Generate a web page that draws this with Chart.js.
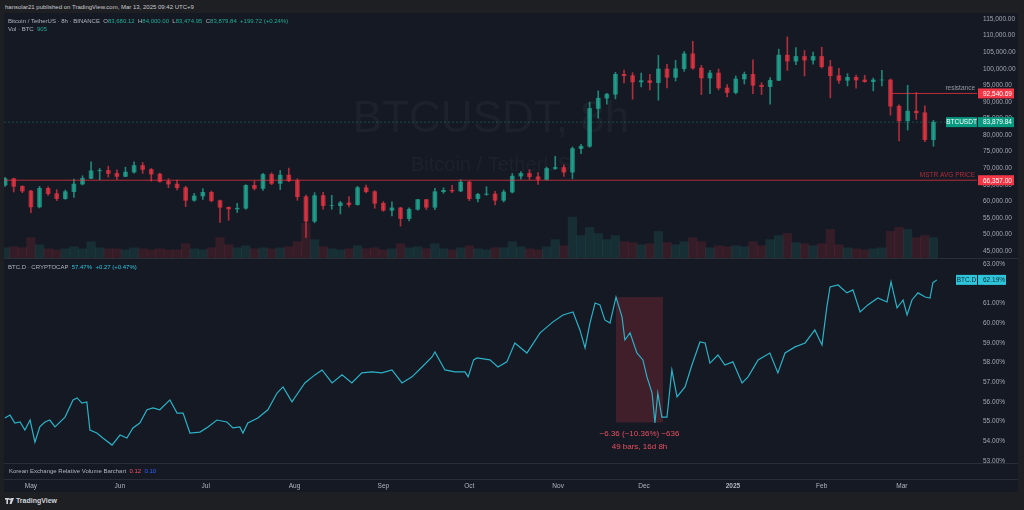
<!DOCTYPE html>
<html>
<head>
<meta charset="utf-8">
<script src="https://cdn.jsdelivr.net/npm/chart.js@4.4.1/dist/chart.umd.min.js"></script>
<style>
  html, body { margin: 0; padding: 0; width: 1024px; height: 510px; overflow: hidden; background: #1e1f23; font-family: "Liberation Sans", Arial, sans-serif; }
  #frame { position: absolute; left: 4px; top: 13px; width: 1014px; height: 479px; background: #151924; }
  canvas { position: absolute; left: 4px; }
  .t { position: absolute; white-space: nowrap; font-size: 6px; line-height: 8px; color: #b2b5be; }
  .sep { position: absolute; left: 4px; width: 1014px; height: 1px; background: #2a2e39; }
  .g { color: #22ab94; }
  .c { color: #2ec5db; }
</style>
</head>
<body>
<div id="frame"></div>
<canvas id="price" width="1014" height="245" style="top:13px"></canvas>
<canvas id="dom" width="1014" height="205" style="top:258px"></canvas>
<canvas id="axis" width="1014" height="29" style="top:463px"></canvas>
<div class="sep" style="top:258px"></div>
<div class="sep" style="top:463px"></div>
<div class="sep" style="top:479px"></div>

<div class="t" style="left:5px;top:3px;color:#c9cacf">hansolar21 published on TradingView.com, Mar 13, 2025 09:42 UTC+9</div>
<div class="t" style="left:8px;top:17px">Bitcoin / TetherUS · 8h · BINANCE &nbsp;O<span class="g">83,680.12</span> &nbsp;H<span class="g">84,000.00</span> &nbsp;L<span class="g">83,474.95</span> &nbsp;C<span class="g">83,879.84</span> &nbsp;<span class="g">+199.72 (+0.24%)</span></div>
<div class="t" style="left:8px;top:25px">Vol · BTC &nbsp;<span class="g">905</span></div>
<div class="t" style="left:8px;top:263px">BTC.D · CRYPTOCAP &nbsp;<span class="c">57.47%</span> &nbsp;<span class="c">+0.27 (+0.47%)</span></div>
<div class="t" style="left:9px;top:467px">Korean Exchange Relative Volume Barchart &nbsp;<span style="color:#f7525f">0.12</span> &nbsp;<span style="color:#2962ff">0.10</span></div>
<div class="t" style="left:5px;top:497px;color:#d1d4dc;font-size:7px;font-weight:bold">
  <svg width="9" height="6" viewBox="0 0 9 6" style="vertical-align:-1px"><rect x="0" y="0" width="4" height="1.6" fill="#d1d4dc"/><rect x="1.4" y="0" width="1.6" height="6" fill="#d1d4dc"/><circle cx="5" cy="1.2" r="1" fill="#d1d4dc"/><polygon points="6.2,0 9,0 6.5,6 4.6,6" fill="#d1d4dc"/></svg> TradingView</div>

<script>
// day offsets counted from 2024-05-01, one candle every 3 days
var candleDay = [
  -9, -6, -3, 0, 3, 6, 9, 12, 15, 18,
  21, 24, 27, 30, 33, 36, 39, 42, 45, 48,
  51, 54, 57, 60, 63, 66, 69, 72, 75, 78,
  81, 84, 87, 90, 93, 96, 99, 102, 105, 108,
  111, 114, 117, 120, 123, 126, 129, 132, 135, 138,
  141, 144, 147, 150, 153, 156, 159, 162, 165, 168,
  171, 174, 177, 180, 183, 186, 189, 192, 195, 198,
  201, 204, 207, 210, 213, 216, 219, 222, 225, 228,
  231, 234, 237, 240, 243, 246, 249, 252, 255, 258,
  261, 264, 267, 270, 273, 276, 279, 282, 285, 288,
  291, 294, 297, 300, 303, 306, 309, 312, 315
];
var firstOpen = 64900;
var closes = [
  66800, 64500, 63100, 58300, 63900, 62300, 60800, 62900, 65200, 66900,
  69200, 69300, 68400, 67500, 68800, 70800, 69600, 68200, 66000, 65200,
  64100, 60300, 61600, 62700, 60200, 58200, 57700, 57900, 64800, 63900,
  68100, 65400, 67900, 66200, 61400, 54000, 61700, 58700, 58700, 59500,
  59000, 64100, 62900, 59400, 57300, 58000, 54800, 57600, 60500, 58200,
  62900, 63300, 63100, 65800, 60800, 62100, 62200, 60300, 62800, 67600,
  68400, 67400, 66600, 69900, 70200, 68800, 75900, 76600, 88000, 91100,
  92300, 98300, 97900, 96000, 96400, 95800, 99900, 97400, 100000, 104500,
  100200, 97200, 98700, 94200, 92800, 96900, 98300, 95000, 94600, 96500,
  104100, 102300, 103700, 102600, 103700, 100600, 97900, 96500, 97400, 96600,
  96100, 96600, 96600, 88700, 84300, 87200, 86700, 78600, 83880
];
var highs = [
  67200, 67000, 64700, 63300, 64500, 64400, 63500, 63400, 66700, 67700,
  71900, 69900, 70600, 69500, 70300, 71900, 71700, 69900, 68500, 66800,
  66400, 64500, 62400, 63800, 63100, 60400, 58300, 59400, 65000, 66100,
  68400, 68600, 69300, 70000, 66800, 61900, 62600, 62700, 61800, 60000,
  61400, 64500, 64900, 63200, 59900, 59800, 58200, 58000, 60600, 60600,
  63900, 64100, 64800, 66500, 66100, 62400, 64400, 63000, 63400, 68400,
  69000, 69500, 68700, 70300, 73600, 71000, 76400, 77200, 89900, 93300,
  92600, 98900, 99600, 98800, 98700, 98300, 104000, 101300, 102500, 105200,
  108300, 101000, 99500, 99900, 95200, 97800, 99000, 102700, 95800, 97300,
  105900, 109600, 106400, 105500, 105000, 106500, 102500, 100100, 98500, 98100,
  98000, 97200, 99500, 96900, 89100, 95000, 92800, 88800, 84400
];
var lows = [
  64500, 62800, 62600, 56600, 58000, 61800, 60200, 60600, 61200, 64900,
  66800, 66500, 67300, 66600, 67400, 68500, 68400, 66100, 65800, 64100,
  63400, 58400, 60000, 60600, 59800, 53600, 54300, 56600, 57600, 63400,
  63300, 65000, 63500, 65900, 60300, 49100, 53500, 57600, 57600, 56200,
  58300, 58800, 62500, 57900, 57000, 55600, 52500, 54100, 57300, 57500,
  57500, 62400, 62600, 62900, 60200, 59800, 61800, 58900, 59800, 62500,
  66700, 66600, 65100, 66400, 69600, 67500, 66800, 74400, 76300, 85100,
  89300, 90900, 95700, 90800, 94500, 93600, 90500, 94200, 96300, 99200,
  99800, 92200, 92500, 93600, 91500, 92400, 95400, 92500, 92200, 89300,
  96400, 99500, 101200, 97800, 101400, 100200, 91200, 95600, 94800, 94100,
  95900, 93300, 94800, 86000, 78200, 81500, 84700, 78000, 76600
];
var volume = [
  10, 11, 10, 20, 13, 9, 8, 9, 11, 9,
  16, 10, 9, 9, 8, 10, 9, 8, 9, 8,
  8, 14, 9, 8, 10, 20, 13, 10, 12, 9,
  10, 9, 10, 11, 16, 34, 18, 11, 9, 8,
  9, 12, 9, 10, 8, 9, 14, 10, 11, 9,
  14, 9, 8, 10, 12, 9, 8, 10, 10, 16,
  11, 9, 8, 11, 18, 12, 40, 22, 30, 24,
  18, 22, 16, 15, 13, 14, 26, 15, 13, 16,
  20, 16, 10, 12, 11, 12, 11, 16, 12, 18,
  22, 24, 15, 14, 12, 14, 28, 13, 10, 9,
  8, 9, 10, 26, 30, 28, 20, 22, 20
];

// BTC dominance (%)
var btcdDay = [
  -9.1, -7.3, -5.6, -3.8, -2.1, -0.3, 1.4, 3.1, 4.9, 6.6, 8.4, 11.9, 14.7, 16.1, 17.8, 19.5,
  20.6, 23.0, 25.1, 28.3, 31.1, 33.5, 35.6, 38.0, 40.5, 42.6, 45.0, 48.5, 51.0, 53.1, 55.5,
  59.0, 61.8, 64.9, 68.4, 70.5, 72.9, 74.0, 75.7, 79.2, 82.7, 85.9, 88.0, 91.1, 93.2, 95.6,
  99.1, 101.6, 105.1, 108.6, 112.0, 115.5, 119.0, 122.5, 126.0, 129.5, 133.0, 136.5, 140.0,
  141.0, 144.5, 148.0, 151.5, 152.6, 154.5, 155.7, 160.2, 163.0, 166.1, 168.9, 173.1, 177.7,
  182.2, 185.7, 189.2, 191.6, 193.4, 195.1, 196.9, 198.6, 200.3, 202.1, 204.2, 206.3, 207.3,
  209.1, 211.5, 213.6, 215.0, 216.8, 217.8, 218.8, 220.2, 222.0, 223.7, 225.5, 228.3, 230.7,
  233.5, 235.3, 237.0, 239.8, 242.2, 245.0, 248.2, 250.3, 253.8, 257.9, 260.7, 263.2, 266.7,
  270.2, 273.6, 276.1, 277.8, 278.9, 281.7, 284.8, 286.9, 289.4, 292.1, 295.6, 298.8, 300.2,
  302.3, 304.4, 305.8, 307.5, 309.6, 312.1, 313.8, 314.8, 316.2
];
var btcdVal = [
  55.18, 55.33, 54.93, 54.98, 54.57, 55.08, 53.96, 54.73, 54.98, 55.08, 54.73, 55.23, 56.10, 56.20, 55.94, 56.00,
  54.57, 54.42, 54.17, 53.81, 54.32, 54.17, 54.68, 54.93, 55.60, 55.70, 55.60, 56.10, 55.43, 55.43, 54.42,
  54.47, 54.73, 55.08, 54.98, 54.68, 54.73, 54.42, 54.93, 55.18, 55.60, 56.45, 56.76, 56.00, 56.45, 56.96,
  57.37, 57.62, 56.96, 57.37, 56.96, 57.47, 57.52, 57.47, 57.62, 56.96, 57.27, 57.77, 58.28,
  58.53, 57.62, 57.52, 57.52, 57.27, 58.13, 58.23, 58.13, 57.77, 58.03, 58.99, 58.48, 59.50,
  60.06, 60.41, 60.56, 59.65, 58.74, 60.00, 61.02, 60.92, 60.16, 60.00, 61.32, 60.31, 59.14,
  59.50, 58.48, 58.13, 57.27, 56.45, 54.93, 56.45, 55.23, 55.23, 57.62, 56.25, 56.76, 57.87,
  59.04, 58.99, 57.97, 58.38, 57.87, 58.03, 56.96, 57.27, 58.13, 58.48, 57.47, 58.48, 58.79,
  58.99, 59.65, 58.89, 60.82, 61.83, 61.93, 61.53, 61.68, 60.56, 60.92, 61.27, 61.07, 62.09,
  60.77, 61.17, 60.41, 61.17, 61.53, 61.32, 61.27, 62.05, 62.19
];

var priceTicks = [45000, 50000, 55000, 60000, 65000, 70000, 75000, 80000, 85000, 90000, 95000, 100000, 105000, 110000, 115000];
var domTicks = [53, 54, 55, 56, 57, 58, 59, 60, 61, 62, 63];
var monthDays = [0, 31, 61, 92, 123, 153, 184, 214, 245, 276, 304];
var monthLabels = ['May', 'Jun', 'Jul', 'Aug', 'Sep', 'Oct', 'Nov', 'Dec', '2025', 'Feb', 'Mar'];

var lastPrice = 83879.84;
var resistanceLevel = 92540.69;
var resistanceStart = 300.5;
var mstrLevel = 66357.00;
var lastDom = 62.19;
// measured drop on BTC.D
var measureFrom = 204.2, measureTo = 220.6, measureHigh = 61.32, measureLow = 54.96;
var measureText = ['\u22126.36 (\u221210.36%) \u2212636', '49 bars, 16d 8h'];

var xMin = -9.4, xMax = 330.2;
var FONT = '"Liberation Sans", Arial, sans-serif';

function fmtPrice(v) {
  return v.toLocaleString('en-US', {minimumFractionDigits: 2, maximumFractionDigits: 2});
}

var opens = closes.map(function (c, i) { return i === 0 ? firstOpen : closes[i - 1]; });
var candleColor = closes.map(function (c, i) { return c >= opens[i] ? 'rgba(34,171,148,0.75)' : 'rgba(242,54,69,0.7)'; });
var volColor = closes.map(function (c, i) { return c >= opens[i] ? 'rgba(34,171,148,0.15)' : 'rgba(242,54,69,0.15)'; });

function yAxisFit(scale) {
  scale.width = 41;
  scale.paddingTop = 0;
  scale.paddingBottom = 0;
}

function tagBox(ctx, x1, x2, yc, bg, fg, text, align) {
  ctx.fillStyle = bg;
  ctx.fillRect(x1, yc - 5, x2 - x1, 10);
  ctx.fillStyle = fg;
  ctx.font = '6.5px ' + FONT;
  ctx.textBaseline = 'middle';
  if (align === 'left') {
    ctx.textAlign = 'left';
    ctx.fillText(text, x1 + 5, yc + 0.5);
  } else {
    ctx.textAlign = 'center';
    ctx.fillText(text, (x1 + x2) / 2, yc + 0.5);
  }
}

var watermark = {
  id: 'watermark',
  beforeDatasetsDraw: function (chart) {
    var ctx = chart.ctx;
    ctx.save();
    ctx.fillStyle = 'rgba(255,255,255,0.035)';
    ctx.textAlign = 'center';
    ctx.textBaseline = 'alphabetic';
    ctx.font = '44px ' + FONT;
    ctx.fillText('BTCUSDT, 8h', 487, 119);
    ctx.font = '20px ' + FONT;
    ctx.fillText('Bitcoin / TetherUS', 487, 158);
    ctx.restore();
  }
};

var priceTags = {
  id: 'priceTags',
  afterDraw: function (chart) {
    var ctx = chart.ctx, y = chart.scales.y, r = chart.chartArea.right;
    ctx.save();
    ctx.font = '6.5px ' + FONT;
    ctx.textAlign = 'right';
    ctx.textBaseline = 'alphabetic';
    ctx.fillStyle = '#9598a1';
    ctx.fillText('resistance', r - 2, y.getPixelForValue(resistanceLevel) - 3);
    ctx.fillStyle = 'rgba(242,54,69,0.7)';
    ctx.fillText('MSTR AVG PRICE', r - 2, y.getPixelForValue(mstrLevel) - 3);
    tagBox(ctx, r + 1, r + 37, y.getPixelForValue(resistanceLevel), '#f23645', '#ffffff', fmtPrice(resistanceLevel), 'left');
    tagBox(ctx, r + 1, r + 37, y.getPixelForValue(mstrLevel), '#f23645', '#ffffff', fmtPrice(mstrLevel), 'left');
    tagBox(ctx, r - 31, r, y.getPixelForValue(lastPrice), '#089981', '#ffffff', 'BTCUSDT');
    tagBox(ctx, r + 1, r + 37, y.getPixelForValue(lastPrice), '#089981', '#ffffff', fmtPrice(lastPrice), 'left');
    ctx.restore();
  }
};

new Chart(document.getElementById('price'), {
  type: 'bar',
  data: {
    datasets: [
      {
        label: 'Vol',
        data: candleDay.map(function (d, i) { return {x: d, y: volume[i]}; }),
        yAxisID: 'yv',
        backgroundColor: volColor,
        barPercentage: 1,
        categoryPercentage: 1,
        grouped: false,
        order: 6
      },
      {
        label: 'wick',
        data: candleDay.map(function (d, i) { return {x: d, y: [lows[i], highs[i]]}; }),
        backgroundColor: candleColor,
        barThickness: 1,
        grouped: false,
        order: 5
      },
      {
        label: 'body',
        data: candleDay.map(function (d, i) { return {x: d, y: [opens[i], closes[i]]}; }),
        backgroundColor: candleColor,
        barThickness: 4,
        grouped: false,
        order: 4
      },
      {
        type: 'line',
        label: 'MSTR AVG PRICE',
        data: [{x: xMin, y: mstrLevel}, {x: xMax, y: mstrLevel}],
        borderColor: 'rgba(242,54,69,0.7)',
        borderWidth: 1,
        pointRadius: 0,
        order: 3
      },
      {
        type: 'line',
        label: 'resistance',
        data: [{x: resistanceStart, y: resistanceLevel}, {x: xMax, y: resistanceLevel}],
        borderColor: 'rgba(242,54,69,0.75)',
        borderWidth: 1,
        pointRadius: 0,
        order: 2
      },
      {
        type: 'line',
        label: 'last',
        data: [{x: xMin, y: lastPrice}, {x: xMax, y: lastPrice}],
        borderColor: 'rgba(34,171,148,0.35)',
        borderWidth: 1,
        borderDash: [2, 2],
        pointRadius: 0,
        order: 1
      }
    ]
  },
  options: {
    responsive: false,
    animation: false,
    devicePixelRatio: 1,
    layout: {padding: 0},
    plugins: {legend: {display: false}, tooltip: {enabled: false}},
    scales: {
      x: {type: 'linear', min: xMin, max: xMax, offset: false, display: false},
      y: {
        type: 'linear', position: 'right', min: 42890, max: 116810,
        grid: {display: false, drawTicks: false}, border: {display: false},
        afterBuildTicks: function (s) { s.ticks = priceTicks.map(function (v) { return {value: v}; }); },
        afterFit: yAxisFit,
        ticks: {color: '#a3a6af', padding: 6, font: {size: 6.5, family: FONT}, callback: function (v) { return fmtPrice(v); }}
      },
      yv: {type: 'linear', display: false, min: 0, max: 240}
    }
  },
  plugins: [watermark, priceTags]
});

var measure = {
  id: 'measure',
  beforeDatasetsDraw: function (chart) {
    var ctx = chart.ctx, x = chart.scales.x, y = chart.scales.y;
    var x1 = x.getPixelForValue(measureFrom), x2 = x.getPixelForValue(measureTo);
    var y1 = y.getPixelForValue(measureHigh), y2 = y.getPixelForValue(measureLow);
    ctx.save();
    ctx.fillStyle = 'rgba(242,54,69,0.2)';
    ctx.fillRect(x1, y1, x2 - x1, y2 - y1);
    ctx.restore();
  },
  afterDraw: function (chart) {
    var ctx = chart.ctx, x = chart.scales.x, y = chart.scales.y;
    var cx = (x.getPixelForValue(measureFrom) + x.getPixelForValue(measureTo)) / 2;
    var yb = y.getPixelForValue(measureLow);
    ctx.save();
    ctx.fillStyle = '#e8505e';
    ctx.font = '8px ' + FONT;
    ctx.textAlign = 'center';
    ctx.textBaseline = 'middle';
    ctx.fillText(measureText[0], cx, yb + 11);
    ctx.fillText(measureText[1], cx, yb + 24);
    ctx.restore();
  }
};

var domTag = {
  id: 'domTag',
  afterDraw: function (chart) {
    var ctx = chart.ctx, y = chart.scales.y, r = chart.chartArea.right;
    var yc = y.getPixelForValue(lastDom);
    ctx.save();
    tagBox(ctx, r - 21, r, yc, '#2ec5db', '#0f2a33', 'BTC.D');
    tagBox(ctx, r + 1, r + 29, yc, '#2ec5db', '#0f2a33', lastDom.toFixed(2) + '%', 'left');
    ctx.restore();
  }
};

new Chart(document.getElementById('dom'), {
  type: 'line',
  data: {
    datasets: [{
      label: 'BTC.D',
      data: btcdDay.map(function (d, i) { return {x: d, y: btcdVal[i]}; }),
      borderColor: '#2bb2c6',
      borderWidth: 1.2,
      pointRadius: 0,
      tension: 0
    }]
  },
  options: {
    responsive: false,
    animation: false,
    devicePixelRatio: 1,
    layout: {padding: 0},
    plugins: {legend: {display: false}, tooltip: {enabled: false}},
    scales: {
      x: {type: 'linear', min: xMin, max: xMax, display: false},
      y: {
        type: 'linear', position: 'right', min: 52.9, max: 63.3,
        grid: {display: false, drawTicks: false}, border: {display: false},
        afterBuildTicks: function (s) { s.ticks = domTicks.map(function (v) { return {value: v}; }); },
        afterFit: yAxisFit,
        ticks: {color: '#a3a6af', padding: 6, font: {size: 6.5, family: FONT}, callback: function (v) { return v.toFixed(2) + '%'; }}
      }
    }
  },
  plugins: [measure, domTag]
});

new Chart(document.getElementById('axis'), {
  type: 'line',
  data: {datasets: []},
  options: {
    responsive: false,
    animation: false,
    devicePixelRatio: 1,
    layout: {padding: {right: 41}},
    plugins: {legend: {display: false}, tooltip: {enabled: false}},
    scales: {
      x: {
        type: 'linear', position: 'bottom', min: xMin, max: xMax,
        grid: {display: false, drawTicks: false}, border: {display: false},
        afterBuildTicks: function (s) { s.ticks = monthDays.map(function (v) { return {value: v}; }); },
        afterFit: function (s) { s.height = 13; s.paddingLeft = 0; s.paddingRight = 0; },
        ticks: {
          autoSkip: false, maxRotation: 0, padding: 3, color: '#b2b5be',
          font: function (c) { return {size: 6.5, family: FONT, weight: (c.tick && c.tick.value === 245) ? 'bold' : 'normal'}; },
          callback: function (v, i) { return monthLabels[i]; }
        }
      },
      y: {display: false, min: 0, max: 1}
    }
  }
});
</script>
</body>
</html>
